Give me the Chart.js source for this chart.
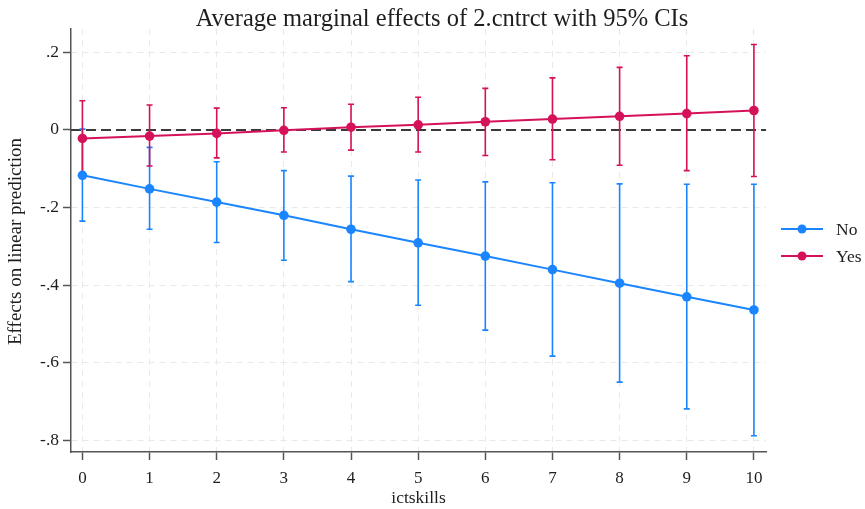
<!DOCTYPE html>
<html>
<head>
<meta charset="utf-8">
<script src="https://cdn.jsdelivr.net/npm/chart.js@4/dist/chart.umd.min.js"></script>
<style>
  html, body { margin: 0; padding: 0; background: #ffffff; }
  #wrap { width: 865px; height: 509px; position: relative; }
</style>
</head>
<body>
<div id="wrap"><canvas id="c" width="865" height="509"></canvas></div>
<script>
// ---- data ----
const xValues = [0, 1, 2, 3, 4, 5, 6, 7, 8, 9, 10];

const noMean  = [-0.117, -0.152, -0.186, -0.220, -0.256, -0.291, -0.325, -0.360, -0.395, -0.430, -0.464];
const noLower = [-0.235, -0.256, -0.290, -0.336, -0.391, -0.452, -0.516, -0.583, -0.650, -0.719, -0.788];
const noUpper = [ 0.002, -0.045, -0.082, -0.105, -0.119, -0.129, -0.134, -0.136, -0.139, -0.140, -0.140];

const yesMean  = [-0.022, -0.016, -0.009, -0.001, 0.007, 0.013, 0.021, 0.028, 0.035, 0.042, 0.050];
const yesLower = [-0.119, -0.093, -0.072, -0.057, -0.052, -0.057, -0.066, -0.077, -0.091, -0.105, -0.120];
const yesUpper = [ 0.075, 0.064, 0.056, 0.057, 0.066, 0.084, 0.107, 0.134, 0.161, 0.191, 0.220];

const seriesNames = ['No', 'Yes'];
const yTicks = [-0.8, -0.6, -0.4, -0.2, 0, 0.2];
const yTickLabels = ['-.8', '-.6', '-.4', '-.2', '0', '.2'];
const xTicks = [0, 1, 2, 3, 4, 5, 6, 7, 8, 9, 10];
const referenceY = 0;

const titleText = 'Average marginal effects of 2.cntrct with 95% CIs';
const xTitle = 'ictskills';
const yTitle = 'Effects on linear prediction';

// ---- style ----
const SERIF = "'Liberation Serif', 'Times New Roman', serif";
const COL_NO = '#1a85ff';
const COL_YES = '#d41159';
const TEXT = '#1e1e1e';
const AXIS = '#555555';
const GRID = '#e9e9e9';

function pts(means) { return xValues.map((x, i) => ({ x: x, y: means[i] })); }

const errorBars = [
  { lower: noLower, upper: noUpper, color: COL_NO },
  { lower: yesLower, upper: yesUpper, color: COL_YES }
];

const extras = {
  id: 'extras',
  beforeDatasetsDraw(chart) {
    const { ctx, chartArea, scales } = chart;
    const xs = scales.x, ys = scales.y;
    // reference line
    ctx.save();
    ctx.strokeStyle = '#3a3a3a';
    ctx.lineWidth = 2;
    ctx.setLineDash([10, 5]);
    const y0 = ys.getPixelForValue(referenceY);
    ctx.beginPath();
    ctx.moveTo(chartArea.left, y0);
    ctx.lineTo(chartArea.right, y0);
    ctx.stroke();
    ctx.restore();
    // error bars
    ctx.save();
    ctx.setLineDash([]);
    ctx.lineWidth = 1.6;
    errorBars.forEach(eb => {
      ctx.strokeStyle = eb.color;
      xValues.forEach((xv, i) => {
        const px = xs.getPixelForValue(xv);
        const pl = ys.getPixelForValue(eb.lower[i]);
        const pu = ys.getPixelForValue(eb.upper[i]);
        ctx.beginPath();
        ctx.moveTo(px, pl); ctx.lineTo(px, pu);
        ctx.moveTo(px - 3, pl); ctx.lineTo(px + 3, pl);
        ctx.moveTo(px - 3, pu); ctx.lineTo(px + 3, pu);
        ctx.stroke();
      });
    });
    ctx.restore();
  },
  afterDraw(chart) {
    const { ctx, chartArea } = chart;
    ctx.save();
    ctx.fillStyle = TEXT;
    ctx.textAlign = 'center';
    ctx.textBaseline = 'middle';
    // title
    ctx.font = '24.5px ' + SERIF;
    ctx.fillText(titleText, 442, 19.5);
    // axis titles
    ctx.font = '17.5px ' + SERIF;
    ctx.fillText(xTitle, (chartArea.left + chartArea.right) / 2, 498);
    ctx.save();
    ctx.font = '19px ' + SERIF;
    ctx.translate(16, (chartArea.top + chartArea.bottom) / 2 + 1);
    ctx.rotate(-Math.PI / 2);
    ctx.fillText(yTitle, 0, 0);
    ctx.restore();
    // legend
    const items = [
      { name: seriesNames[0], color: COL_NO, y: 229 },
      { name: seriesNames[1], color: COL_YES, y: 256 }
    ];
    items.forEach(it => {
      ctx.strokeStyle = it.color;
      ctx.lineWidth = 2;
      ctx.beginPath();
      ctx.moveTo(781, it.y); ctx.lineTo(823, it.y);
      ctx.stroke();
      ctx.fillStyle = it.color;
      ctx.beginPath();
      ctx.arc(802, it.y, 4.5, 0, Math.PI * 2);
      ctx.fill();
      ctx.fillStyle = TEXT;
      ctx.textAlign = 'left';
      ctx.font = '17.5px ' + SERIF;
      ctx.fillText(it.name, 836, it.y + 1);
    });
    ctx.restore();
  }
};

new Chart(document.getElementById('c'), {
  type: 'line',
  data: {
    datasets: [
      { label: seriesNames[0], data: pts(noMean), borderColor: COL_NO, backgroundColor: COL_NO,
        borderWidth: 2, pointRadius: 4.8, pointHoverRadius: 4.8, pointBorderWidth: 0, fill: false, tension: 0 },
      { label: seriesNames[1], data: pts(yesMean), borderColor: COL_YES, backgroundColor: COL_YES,
        borderWidth: 2, pointRadius: 4.8, pointHoverRadius: 4.8, pointBorderWidth: 0, fill: false, tension: 0 }
    ]
  },
  options: {
    responsive: false,
    animation: false,
    events: [],
    layout: { padding: { top: 29, right: 99, left: 0, bottom: 0 } },
    plugins: { legend: { display: false }, title: { display: false }, tooltip: { enabled: false } },
    scales: {
      x: {
        type: 'linear',
        min: -0.17, max: 10.18,
        afterBuildTicks: s => { s.ticks = xTicks.map(v => ({ value: v })); },
        afterFit: s => { s.height = 57; },
        ticks: { font: { family: SERIF, size: 17 }, color: TEXT, padding: 8, maxRotation: 0, autoSkip: false,
                 callback: v => String(v) },
        grid: { color: GRID, lineWidth: 1, tickColor: AXIS, tickLength: 8, tickWidth: 1.5, tickBorderDash: [] },
        border: { display: true, color: AXIS, width: 1.5, dash: [6, 5] }
      },
      y: {
        type: 'linear',
        min: -0.83, max: 0.26,
        afterBuildTicks: s => { s.ticks = yTicks.map(v => ({ value: v })); },
        afterFit: s => { s.width = 71; },
        ticks: { font: { family: SERIF, size: 17.5 }, color: TEXT, padding: 4, autoSkip: false,
                 callback: (v) => { const i = yTicks.findIndex(t => Math.abs(t - v) < 1e-9); return i >= 0 ? yTickLabels[i] : ''; } },
        grid: { color: GRID, lineWidth: 1, tickColor: AXIS, tickLength: 8, tickWidth: 1.5, tickBorderDash: [] },
        border: { display: true, color: AXIS, width: 1.5, dash: [6, 5] }
      }
    }
  },
  plugins: [extras]
});
</script>
</body>
</html>
